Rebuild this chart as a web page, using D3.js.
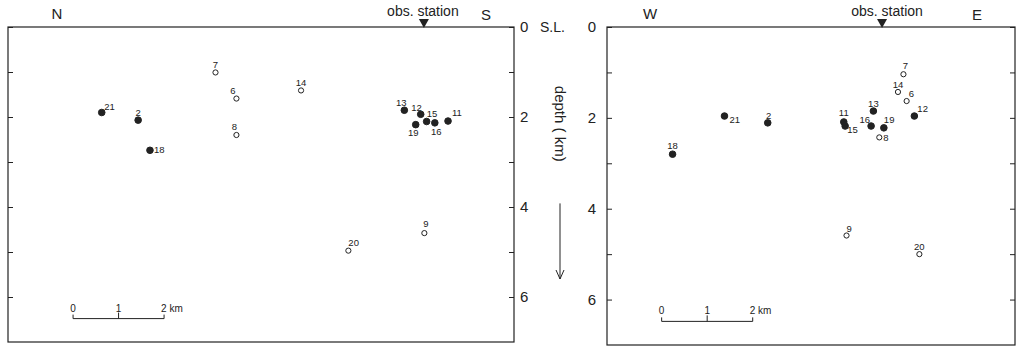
<!DOCTYPE html>
<html>
<head>
<meta charset="utf-8">
<script src="https://cdn.jsdelivr.net/npm/d3@7"></script>
<style>
  body { margin: 0; background: #fff; }
  svg { font-family: "Liberation Sans", "DejaVu Sans", sans-serif; }
  .lbl { font-size: 9.5px; fill: #222; }
  .axis text { font-size: 15px; fill: #222; }
</style>
</head>
<body>
<div id="chart"></div>
<script>
// Hypocentre data (km). Horizontal distance is measured from the obs. station.
const eventIds  = ["21", "2", "18", "7", "6", "8", "14", "13", "12", "15", "16", "11", "19", "20", "9"];
const filled    = [true, true, true, false, false, false, false, true, true, true, true, true, true, false, false];
const nsDist    = [-7.08, -6.28, -6.02, -4.58, -4.12, -4.12, -2.70, -0.43, -0.07, 0.06, 0.24, 0.53, -0.18, -1.66, 0.01];
const nsDepth   = [1.90, 2.07, 2.74, 1.01, 1.59, 2.40, 1.41, 1.85, 1.94, 2.10, 2.13, 2.09, 2.17, 4.97, 4.58];
const ewDist    = [-3.46, -2.51, -4.60, 0.47, 0.54, -0.06, 0.35, -0.19, 0.71, -0.81, -0.24, -0.84, 0.04, 0.82, -0.78];
const ewDepth   = [1.96, 2.11, 2.80, 1.04, 1.63, 2.43, 1.43, 1.85, 1.96, 2.18, 2.18, 2.09, 2.22, 5.00, 4.59];
const depthTicks = [0, 1, 2, 3, 4, 5, 6];
const depthLabels = [0, 2, 4, 6];
const scaleBarKm = [0, 1, 2];

// label placement for each event number: [dx, dy, anchor]
const nsLabelPos = {
  "21": [2.5, -3, "start"], "2": [0, -4, "middle"], "18": [4, 3, "start"],
  "7": [0, -4, "middle"], "6": [-1, -5, "end"], "8": [-2, -5, "middle"],
  "14": [0, -4, "middle"], "13": [-3, -4, "middle"], "12": [1, -3, "end"],
  "15": [0, -5, "start"], "16": [1.5, 12, "middle"], "11": [4, -5, "start"],
  "19": [-2.5, 11, "middle"], "20": [0, -5, "start"], "9": [1.5, -6, "middle"]
};
const ewLabelPos = {
  "21": [5, 7, "start"], "2": [1, -4, "middle"], "18": [0, -5, "middle"],
  "7": [2, -5, "middle"], "6": [2, -4, "start"], "8": [4, 4, "start"],
  "14": [0, -4, "middle"], "13": [0, -4, "middle"], "12": [3, -4, "start"],
  "15": [2, 7, "start"], "16": [-1, -3, "end"], "11": [0, -6, "middle"],
  "19": [0, -5, "start"], "20": [0, -4, "middle"], "9": [0, -4, "start"]
};

const width = 1018, height = 347;
const svg = d3.select("#chart").append("svg")
    .attr("width", width)
    .attr("height", height);

const ink = "#222";

function drawPanel(opt) {
    const x = d3.scaleLinear().domain(opt.xDomain).range([opt.left, opt.right]);
    const y = d3.scaleLinear().domain([0, 7]).range([27, opt.bottom]);
    const g = svg.append("g");

    // frame
    g.append("rect")
        .attr("x", opt.left).attr("y", y(0))
        .attr("width", opt.right - opt.left).attr("height", opt.bottom - y(0))
        .attr("fill", "none").attr("stroke", ink).attr("stroke-width", 1.2);

    // depth axes (ticks pointing inside)
    const leftAxis = d3.axisLeft(y).tickValues(depthTicks).tickSizeInner(-5).tickSizeOuter(0)
        .tickPadding(opt.leftLabels ? 11 : 0)
        .tickFormat(d => opt.leftLabels && depthLabels.includes(d) && d > 0 ? d : "");
    g.append("g").attr("class", "axis").attr("transform", `translate(${opt.left},0)`).call(leftAxis)
        .call(s => s.select(".domain").remove())
        .call(s => s.selectAll("line").attr("stroke", ink));

    const rightAxis = d3.axisRight(y).tickValues(depthTicks).tickSizeInner(-5).tickSizeOuter(0)
        .tickPadding(6)
        .tickFormat(d => opt.rightLabels && depthLabels.includes(d) && d > 0 ? d : "");
    g.append("g").attr("class", "axis").attr("transform", `translate(${opt.right},0)`).call(rightAxis)
        .call(s => s.select(".domain").remove())
        .call(s => s.selectAll("line").attr("stroke", ink));

    // direction letters
    g.append("text").attr("x", opt.dirLeft[0]).attr("y", 19).text(opt.dirLeft[1])
        .attr("font-size", 15).attr("fill", ink).attr("text-anchor", "middle");
    g.append("text").attr("x", opt.dirRight[0]).attr("y", 20).text(opt.dirRight[1])
        .attr("font-size", 15).attr("fill", ink).attr("text-anchor", "middle");

    // obs. station
    const sx = x(0);
    g.append("path")
        .attr("d", `M${sx - 5},${y(0) - 8}L${sx + 5},${y(0) - 8}L${sx},${y(0) + 1}Z`)
        .attr("fill", ink);
    g.append("text").attr("x", sx + opt.stationDx).attr("y", 16).text("obs. station")
        .attr("font-size", 14).attr("fill", ink).attr("text-anchor", "middle");

    // scale bar
    const bx = d => x(opt.barStart + d);
    const by = y(6.48);
    g.append("line").attr("x1", bx(0)).attr("x2", bx(2)).attr("y1", by).attr("y2", by)
        .attr("stroke", ink).attr("stroke-width", 1);
    g.selectAll(".bartick").data(scaleBarKm).enter().append("line")
        .attr("x1", d => bx(d)).attr("x2", d => bx(d))
        .attr("y1", by).attr("y2", d => by - (d === 1 ? 6 : 4))
        .attr("stroke", ink);
    g.selectAll(".barlbl").data(scaleBarKm).enter().append("text")
        .attr("x", d => bx(d)).attr("y", by - 7)
        .attr("text-anchor", d => d === 2 ? "start" : "middle")
        .attr("dx", d => d === 2 ? -3 : 0)
        .attr("font-size", 10).attr("fill", ink)
        .text(d => d === 2 ? "2 km" : d);

    // hypocentres
    const idx = d3.range(eventIds.length);
    g.selectAll(".ev").data(idx).enter().append("circle")
        .attr("cx", i => x(opt.dist[i]))
        .attr("cy", i => y(opt.depth[i]))
        .attr("r", i => filled[i] ? 3.3 : 2.6)
        .attr("fill", i => filled[i] ? ink : "#fff")
        .attr("stroke", ink).attr("stroke-width", 1);
    g.selectAll(".lbl").data(idx).enter().append("text")
        .attr("class", "lbl")
        .attr("x", i => x(opt.dist[i]) + opt.labelPos[eventIds[i]][0])
        .attr("y", i => y(opt.depth[i]) + opt.labelPos[eventIds[i]][1])
        .attr("text-anchor", i => opt.labelPos[eventIds[i]][2])
        .text(i => eventIds[i]);

    return { x, y };
}

const ns = drawPanel({
    left: 8, right: 514, bottom: 342,
    xDomain: [-9.14, 1.98],
    dist: nsDist, depth: nsDepth, labelPos: nsLabelPos,
    dirLeft: [57, "N"], dirRight: [486, "S"],
    stationDx: -1, barStart: -7.71,
    leftLabels: false, rightLabels: true
});

const ew = drawPanel({
    left: 607, right: 1015, bottom: 345,
    xDomain: [-6.04, 2.92],
    dist: ewDist, depth: ewDepth, labelPos: ewLabelPos,
    dirLeft: [650, "W"], dirRight: [977, "E"],
    stationDx: 5, barStart: -4.84,
    leftLabels: true, rightLabels: false
});

// sea level labels
svg.append("text").attr("x", 520).attr("y", ns.y(0) + 5).text("0")
    .attr("font-size", 15).attr("fill", ink);
svg.append("text").attr("x", 540).attr("y", ns.y(0) + 5).text("S.L.")
    .attr("font-size", 14).attr("fill", ink);
svg.append("text").attr("x", 596).attr("y", ew.y(0) + 5).text("0")
    .attr("font-size", 15).attr("fill", ink).attr("text-anchor", "end");

// depth caption with downward arrow
const capX = 560;
svg.append("text")
    .attr("transform", `translate(${capX - 5},${ns.y(2.15)}) rotate(90)`)
    .attr("text-anchor", "middle")
    .attr("font-size", 15).attr("fill", ink)
    .text("depth ( km)");
svg.append("line").attr("x1", capX).attr("x2", capX)
    .attr("y1", ns.y(3.92)).attr("y2", ns.y(5.6))
    .attr("stroke", ink).attr("stroke-width", 1);
svg.append("path")
    .attr("d", `M${capX - 4},${ns.y(5.6) - 9}L${capX},${ns.y(5.6)}L${capX + 4},${ns.y(5.6) - 9}`)
    .attr("fill", "none").attr("stroke", ink).attr("stroke-width", 1);
</script>
</body>
</html>
